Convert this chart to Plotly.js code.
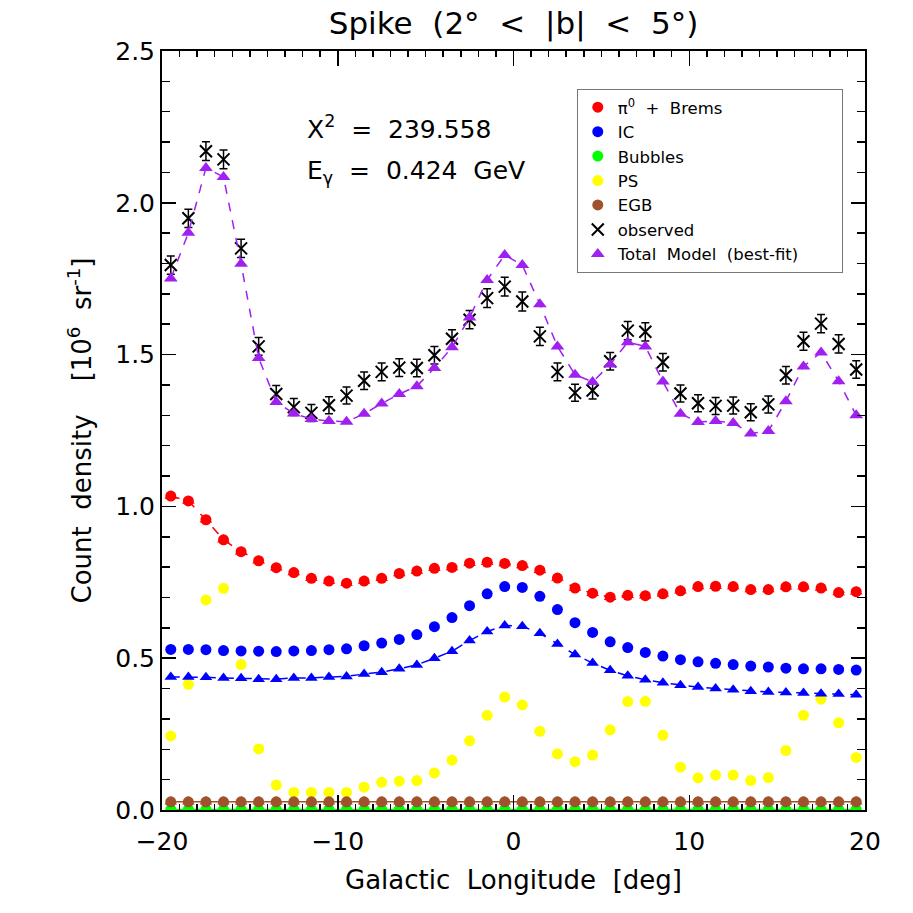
<!DOCTYPE html>
<html>
<head>
<meta charset="utf-8">
<script src="https://cdn.plot.ly/plotly-3.0.1.min.js"></script>
<style>html,body{margin:0;padding:0;background:#fff;}#chart{width:913px;height:913px;}</style>
</head>
<body>
<div id="chart"></div>
<script>
// Galactic longitude bin centres [deg]
const lon = [-19.5,-18.5,-17.5,-16.5,-15.5,-14.5,-13.5,-12.5,-11.5,-10.5,-9.5,-8.5,-7.5,-6.5,-5.5,-4.5,-3.5,-2.5,-1.5,-0.5,
             0.5,1.5,2.5,3.5,4.5,5.5,6.5,7.5,8.5,9.5,10.5,11.5,12.5,13.5,14.5,15.5,16.5,17.5,18.5,19.5];

// observed counts and errors
const observed = [1.795,1.949,2.170,2.143,1.850,1.527,1.370,1.327,1.308,1.333,1.365,1.414,1.443,1.457,1.456,1.498,1.552,1.615,1.686,1.724,
                  1.675,1.560,1.443,1.374,1.382,1.478,1.579,1.575,1.475,1.372,1.340,1.331,1.332,1.310,1.336,1.432,1.544,1.602,1.535,1.451];
const observedErr = [0.030,0.030,0.031,0.031,0.030,0.029,0.028,0.028,0.028,0.028,0.028,0.029,0.029,0.029,0.029,0.029,0.030,0.030,0.031,0.031,
                     0.031,0.030,0.029,0.028,0.028,0.029,0.030,0.030,0.029,0.028,0.028,0.028,0.028,0.028,0.028,0.029,0.030,0.030,0.030,0.029];

// total model (best-fit)
const totalModel = [1.751,1.901,2.115,2.085,1.799,1.489,1.344,1.306,1.288,1.281,1.279,1.305,1.339,1.370,1.396,1.456,1.524,1.622,1.746,1.828,
                    1.795,1.666,1.527,1.434,1.410,1.467,1.541,1.527,1.411,1.305,1.278,1.281,1.275,1.240,1.248,1.346,1.461,1.507,1.412,1.300];

// pi0 + Brems
const pi0Brems = [1.034,1.018,0.956,0.890,0.851,0.821,0.798,0.782,0.763,0.754,0.747,0.754,0.763,0.779,0.787,0.796,0.799,0.813,0.816,0.812,
                  0.805,0.790,0.764,0.731,0.714,0.701,0.707,0.706,0.712,0.722,0.736,0.737,0.736,0.726,0.726,0.735,0.735,0.731,0.716,0.719];

// IC (circles) and IC model (triangles)
const icCircles = [0.529,0.529,0.528,0.525,0.524,0.523,0.522,0.524,0.525,0.528,0.531,0.541,0.550,0.562,0.578,0.604,0.634,0.673,0.712,0.736,
                   0.733,0.704,0.660,0.617,0.585,0.554,0.535,0.519,0.507,0.495,0.488,0.483,0.479,0.474,0.471,0.467,0.465,0.465,0.463,0.461];
const icTriangles = [0.438,0.438,0.437,0.435,0.434,0.431,0.431,0.435,0.435,0.438,0.440,0.448,0.454,0.465,0.478,0.500,0.523,0.558,0.588,0.608,
                     0.605,0.582,0.547,0.512,0.484,0.460,0.442,0.429,0.419,0.411,0.405,0.400,0.396,0.391,0.389,0.387,0.385,0.383,0.382,0.380];

// Bubbles
const bubbles = [0.002,0.002,0.002,0.002,0.002,0.002,0.002,0.002,0.002,0.002,0.002,0.002,0.002,0.002,0.002,0.002,0.002,0.002,0.002,0.002,
                 0.002,0.002,0.002,0.002,0.002,0.002,0.002,0.002,0.002,0.002,0.002,0.002,0.002,0.002,0.002,0.002,0.002,0.002,0.002,0.002];

// PS
const ps = [0.244,0.414,0.692,0.730,0.479,0.201,0.082,0.058,0.058,0.058,0.058,0.075,0.091,0.095,0.097,0.122,0.164,0.228,0.312,0.372,
            0.346,0.259,0.185,0.159,0.181,0.264,0.357,0.358,0.246,0.141,0.106,0.115,0.115,0.097,0.107,0.196,0.312,0.365,0.287,0.173];

// EGB
const egb = [0.027,0.027,0.027,0.027,0.027,0.027,0.027,0.027,0.027,0.027,0.027,0.027,0.027,0.027,0.027,0.027,0.027,0.027,0.027,0.027,
             0.027,0.027,0.027,0.027,0.027,0.027,0.027,0.027,0.027,0.027,0.027,0.027,0.027,0.027,0.027,0.027,0.027,0.027,0.027,0.027];

const RED = 'rgb(255,0,0)', BLUE = 'rgb(0,0,255)', GREEN = 'rgb(0,255,0)', YELLOW = 'rgb(255,255,0)',
      BROWN = 'rgb(160,82,45)', PURPLE = 'rgb(160,32,240)';
const FONT = 'DejaVu Sans, Arial, sans-serif';
const PAD = '\u00a0\u00a0\u00a0\u00a0\u00a0\u00a0\u00a0';

function tri(y, color, dash, width) {
  return {x: lon, y: y, type: 'scatter', mode: 'lines+markers', showlegend: false, hoverinfo: 'skip',
          line: {color: color, dash: dash, width: width},
          marker: {symbol: 'triangle-up', size: 11, color: color}};
}
function circ(y, color, name, rank) {
  return {x: lon, y: y, type: 'scatter', mode: 'markers', name: name, legendrank: rank,
          marker: {symbol: 'circle', size: 11, color: color}};
}

const traces = [
  tri(egb, BROWN, 'solid', 1.5),
  tri(bubbles, GREEN, 'solid', 1.5),
  tri(pi0Brems, RED, 'dash', 1.5),
  circ(pi0Brems, RED, 'π<sup>0</sup>  +  Brems', 1),
  circ(icCircles, BLUE, 'IC', 2),
  circ(bubbles, GREEN, 'Bubbles', 3),
  circ(ps, YELLOW, 'PS', 4),
  circ(egb, BROWN, 'EGB', 5),
  tri(icTriangles, BLUE, 'dash', 1.5),
  {x: lon, y: observed, type: 'scatter', mode: 'markers', name: 'observed', legendrank: 6,
   marker: {symbol: 'x-thin-open', size: 12, color: 'black', line: {color: 'black', width: 2}},
   error_y: {type: 'data', array: observedErr, visible: true, color: 'black', thickness: 1.5, width: 4}},
  {x: lon, y: totalModel, type: 'scatter', mode: 'lines', showlegend: false, hoverinfo: 'skip',
   line: {color: PURPLE, dash: 'dash', width: 1.5}},
  {x: lon, y: totalModel, type: 'scatter', mode: 'markers', name: 'Total  Model  (best-fit)' + PAD, legendrank: 7,
   marker: {symbol: 'triangle-up', size: 12, color: PURPLE}}
];

const axisCommon = {
  showgrid: false, zeroline: false, showline: true, linecolor: 'black', linewidth: 2,
  mirror: 'ticks', ticks: 'inside', tickcolor: 'black', tickwidth: 1.5,
  tickfont: {family: FONT, size: 25, color: 'black'}
};

const layout = {
  width: 913, height: 913,
  margin: {l: 162, r: 48, t: 51, b: 103},
  paper_bgcolor: 'white', plot_bgcolor: 'white',
  font: {family: FONT, color: 'black'},
  title: {text: 'Spike  (2°  <  |b|  <  5°)', font: {family: FONT, size: 31, color: 'black'},
          x: 0.5, xanchor: 'center', xref: 'paper', y: 0.975, yanchor: 'middle'},
  xaxis: Object.assign({}, axisCommon, {
    range: [-20, 20], tick0: 0, dtick: 10, ticklen: 15, ticklabelstandoff: 8,
    minor: {dtick: 1, ticklen: 6, ticks: 'inside', tickcolor: 'black', tickwidth: 1.5},
    title: {text: 'Galactic  Longitude  [deg]', font: {family: FONT, size: 26, color: 'black'}, standoff: 16}
  }),
  yaxis: Object.assign({}, axisCommon, {
    range: [0, 2.5], tick0: 0, dtick: 0.5, ticklen: 14, tickformat: '.1f',
    minor: {dtick: 0.1, ticklen: 8, ticks: 'inside', tickcolor: 'black', tickwidth: 1.5},
    title: {text: 'Count  density    [10<sup>6</sup>  sr<sup>-1</sup>]', font: {family: FONT, size: 26, color: 'black'}, standoff: 16}
  }),
  legend: {x: 0.590, y: 0.950, xanchor: 'left', yanchor: 'top', bgcolor: 'white',
           bordercolor: '#777', borderwidth: 1, font: {family: FONT, size: 16.5, color: 'black'},
           tracegroupgap: 0, itemwidth: 30},
  annotations: [
    {xref: 'paper', yref: 'paper', x: 0.203, y: 0.899, xanchor: 'left', yanchor: 'middle', showarrow: false,
     text: 'X<sup>2</sup>  =  239.558', font: {family: FONT, size: 25, color: 'black'}},
    {xref: 'paper', yref: 'paper', x: 0.203, y: 0.841, xanchor: 'left', yanchor: 'middle', showarrow: false,
     text: 'E<sub>γ</sub>  =  0.424  GeV', font: {family: FONT, size: 25, color: 'black'}}
  ]
};

Plotly.newPlot('chart', traces, layout, {displayModeBar: false, staticPlot: true});
</script>
</body>
</html>
